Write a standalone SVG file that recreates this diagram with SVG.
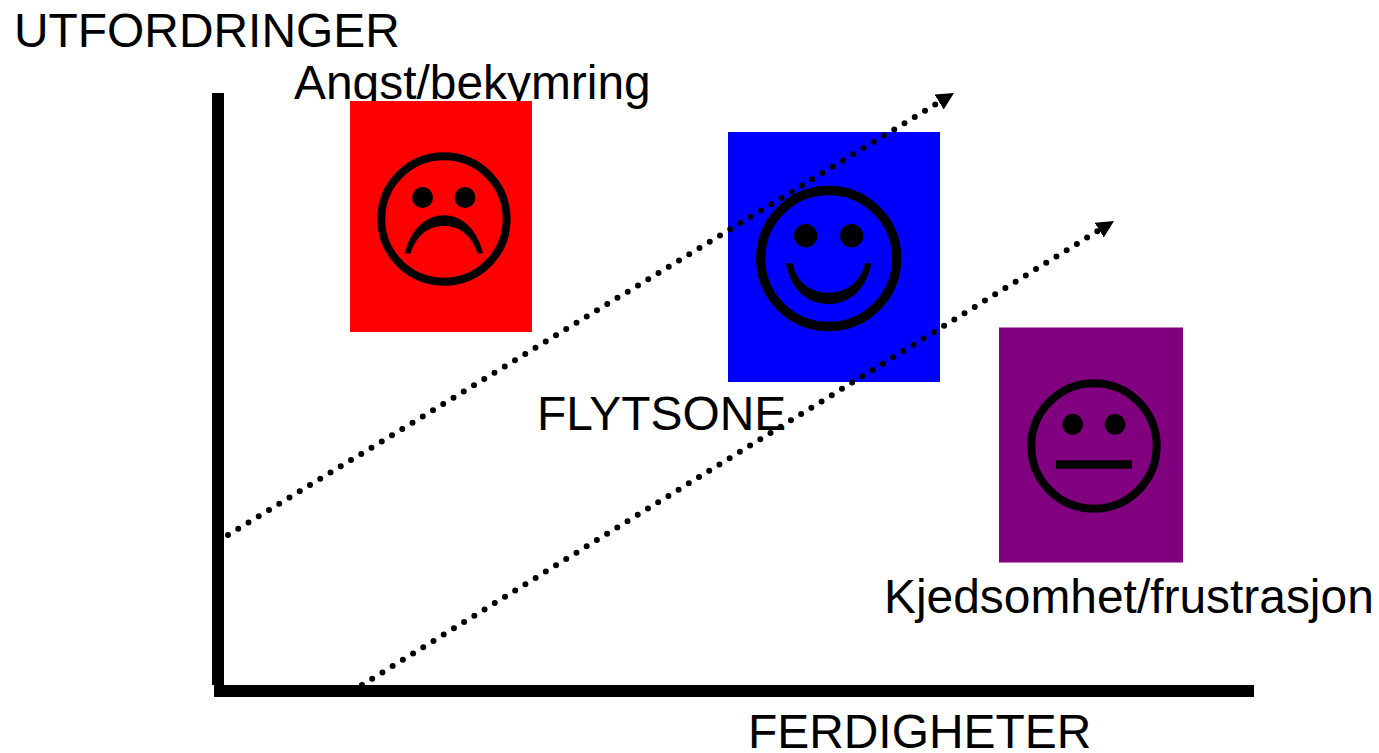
<svg xmlns="http://www.w3.org/2000/svg" width="1379" height="753" viewBox="0 0 1379 753">
<style>
text{font-family:"Liberation Sans",Arial,sans-serif;font-size:47.9px;fill:#000}
.face{fill:none;stroke:#000}
.ink{fill:#000}
.dot{fill:none;stroke:#000;stroke-width:6;stroke-linecap:round;stroke-dasharray:0 12}
</style>
<defs>
<marker id="arrow" markerUnits="userSpaceOnUse" markerWidth="18" markerHeight="18" refX="17.4" refY="8.75" orient="auto" viewBox="0 0 18 18"><path d="M0 0L17.4 8.75L0 17.5Z" fill="#000"/></marker>
</defs>
<rect width="1379" height="753" fill="#fff"/>
<g id="label-utfordringer"><text x="14" y="47">UTFORDRINGER</text></g>
<g id="label-angst"><text x="294" y="99">Angst/bekymring</text></g>
<g id="node-angst">
<rect x="350" y="101" width="182" height="231" fill="#f00"/>
<circle class="face" cx="444" cy="219" r="62.7" stroke-width="8"/>
<circle class="ink" cx="422.5" cy="197.5" r="10.5"/>
<circle class="ink" cx="465" cy="197.5" r="10.5"/>
<path class="ink" d="M405 253.5C410 231 425 215.3 444 215.3C463 215.3 478 231 483 253.5L477.7 253.5C472 236 460 226 444 226C428 226 416 236 410.7 253.5Z"/>
</g>
<g id="node-flytsone">
<rect x="728" y="132" width="212" height="250" fill="#00f"/>
<circle class="face" cx="828.7" cy="258.5" r="68" stroke-width="9.4"/>
<circle class="ink" cx="805.7" cy="235.7" r="11.7"/>
<circle class="ink" cx="851.7" cy="235.7" r="11.7"/>
<path class="ink" d="M786 263.3L792.5 263.3C797 283 811 292.7 828.7 292.7C846 292.7 860 283 865 263.3L871.3 263.3C867 289 850 304 828.7 304C807 304 790 289 786 263.3Z"/>
</g>
<g id="node-kjedsomhet">
<rect x="999" y="327.5" width="184" height="235" fill="#800080"/>
<circle class="face" cx="1094" cy="446" r="62.7" stroke-width="8"/>
<circle class="ink" cx="1072.7" cy="424.3" r="10.5"/>
<circle class="ink" cx="1115" cy="424.3" r="10.5"/>
<rect class="ink" x="1056" y="460.3" width="76" height="8.4"/>
</g>
<g id="connectors">
<rect class="ink" x="212" y="93" width="12" height="592"/>
<rect class="ink" x="214" y="685" width="1040" height="12"/>
<path class="dot" d="M228 535L954 93" marker-end="url(#arrow)"/>
<path class="dot" d="M362 685L1114 221" marker-end="url(#arrow)"/>
</g>
<g id="label-flytsone"><text x="537" y="430">FLYTSONE</text></g>
<g id="label-kjedsomhet"><text x="884" y="613">Kjedsomhet/frustrasjon</text></g>
<g id="label-ferdigheter"><text x="748" y="748">FERDIGHETER</text></g>
</svg>
